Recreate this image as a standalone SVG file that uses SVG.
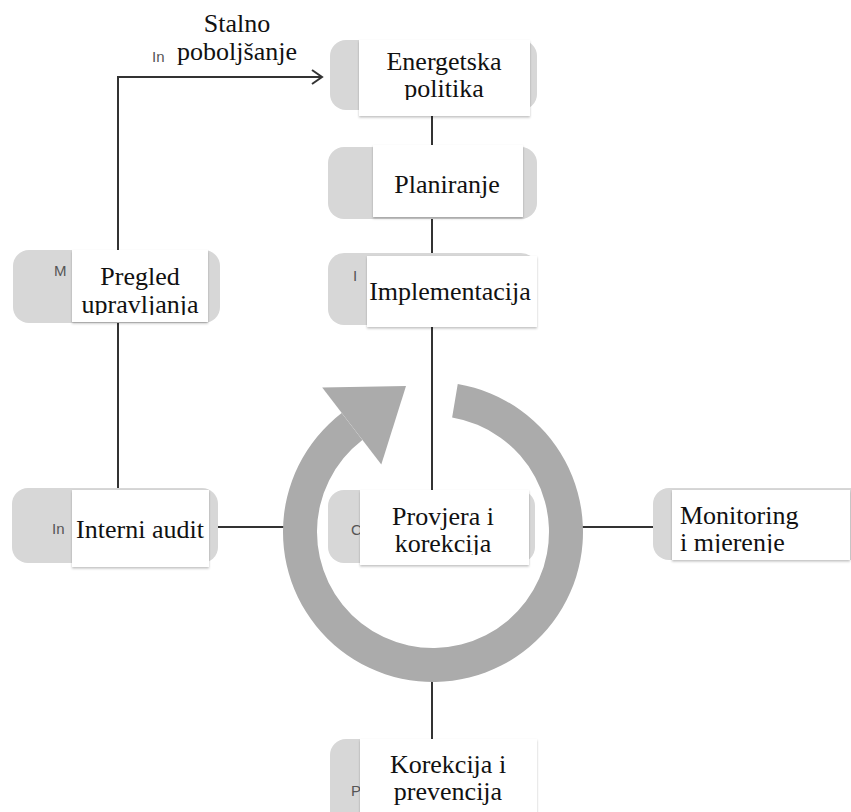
<svg xmlns="http://www.w3.org/2000/svg" width="851" height="812" viewBox="0 0 851 812">
<style>
.bg{fill:#d7d7d7}
.wb{fill:#ffffff;filter:url(#sh)}
.t{font-family:"Liberation Serif","Times New Roman",serif;font-size:26px;fill:#111}
.c{text-anchor:middle}
.r{font-family:"Liberation Sans",Arial,sans-serif;font-size:15px;fill:#555}
.ln{stroke:#333;stroke-width:2;fill:none}
</style>
<defs>
<filter id="sh" x="-10%" y="-10%" width="120%" height="130%">
<feDropShadow dx="0" dy="1.5" stdDeviation="1.2" flood-color="#000" flood-opacity="0.25"/>
</filter>
<clipPath id="c1"><rect x="170" y="0" width="130" height="66"/></clipPath>
<clipPath id="c2"><rect x="359" y="40" width="171" height="60"/></clipPath>
<clipPath id="c3"><rect x="72" y="250" width="136" height="65"/></clipPath>
<clipPath id="c4"><rect x="360" y="490" width="169" height="65"/></clipPath>
<clipPath id="c5"><rect x="672" y="490" width="178" height="63"/></clipPath>
<clipPath id="c6"><rect x="360" y="739" width="177" height="66"/></clipPath>
</defs>

<g id="connectors">
<polyline class="ln" points="118,489 118,77 322,77"/>
<polyline class="ln" points="312,70 322,77 312,84"/>
<line class="ln" x1="432" y1="110" x2="432" y2="147"/>
<line class="ln" x1="432" y1="218" x2="432" y2="255"/>
<line class="ln" x1="432" y1="325" x2="432" y2="492"/>
<line class="ln" x1="432" y1="660" x2="432" y2="741"/>
<line class="ln" x1="216" y1="527" x2="295" y2="527"/>
<line class="ln" x1="570" y1="527" x2="655" y2="527"/>
</g>

<g id="cycle">
<path fill="#ababab" d="M457.75,384.05 A150,150 0 1 1 341.68,412.99 L362.38,439.97 A116,116 0 1 0 452.14,417.59 Z"/>
<polygon fill="#ababab" points="322.2,387.6 406,386 381.3,464.6"/>
</g>

<g id="node-stalno">
<text class="r" x="152" y="62">In</text>
<rect x="175" y="0" width="122" height="66" fill="#fff"/>
<g clip-path="url(#c1)">
<text class="t c" x="237" y="32">Stalno</text>
<text class="t c" x="237" y="60">poboljšanje</text>
</g>
</g>

<g id="node-energetska">
<rect class="bg" x="330" y="40" width="207" height="70" rx="16"/>
<rect class="wb" x="359" y="40" width="171" height="76"/>
<g clip-path="url(#c2)">
<text class="t c" x="444" y="70">Energetska</text>
<text class="t c" x="444" y="97">politika</text>
</g>
</g>

<g id="node-planiranje">
<rect class="bg" x="328" y="147" width="209" height="72" rx="16"/>
<rect class="wb" x="373" y="145" width="150" height="72"/>
<text class="t c" x="447" y="193">Planiranje</text>
</g>

<g id="node-implementacija">
<rect class="bg" x="328" y="253" width="209" height="72" rx="16"/>
<text class="r" x="353" y="281">I</text>
<rect class="wb" x="367" y="256" width="170" height="71"/>
<text class="t c" x="450" y="300">Implementacija</text>
</g>

<g id="node-pregled">
<rect class="bg" x="13" y="250" width="207" height="73" rx="16"/>
<text class="r" x="54" y="276">M</text>
<rect class="wb" x="72" y="250" width="136" height="72"/>
<g clip-path="url(#c3)">
<text class="t c" x="140" y="285">Pregled</text>
<text class="t c" x="140" y="313">upravljanja</text>
</g>
</g>

<g id="node-interni">
<rect class="bg" x="12" y="488" width="206" height="75" rx="16"/>
<text class="r" x="52" y="534">In</text>
<rect class="wb" x="72" y="490" width="137" height="77"/>
<text class="t c" x="140" y="538">Interni audit</text>
</g>

<g id="node-provjera">
<rect class="bg" x="328" y="490" width="207" height="73" rx="16"/>
<text class="r" x="351" y="535">C</text>
<rect class="wb" x="360" y="490" width="169" height="75"/>
<g clip-path="url(#c4)">
<text class="t c" x="443" y="525">Provjera i</text>
<text class="t c" x="443" y="552">korekcija</text>
</g>
</g>

<g id="node-monitoring">
<rect class="bg" x="653" y="488" width="220" height="72" rx="16"/>
<rect class="wb" x="672" y="490" width="178" height="70"/>
<g clip-path="url(#c5)">
<text class="t" x="680" y="524">Monitoring</text>
<text class="t" x="680" y="551">i mjerenje</text>
</g>
</g>

<g id="node-korekcija">
<rect class="bg" x="330" y="739" width="207" height="90" rx="16"/>
<text class="r" x="351" y="796">P</text>
<rect class="wb" x="360" y="739" width="177" height="80"/>
<g clip-path="url(#c6)">
<text class="t c" x="448" y="773">Korekcija i</text>
<text class="t c" x="448" y="800">prevencija</text>
</g>
</g>
</svg>
